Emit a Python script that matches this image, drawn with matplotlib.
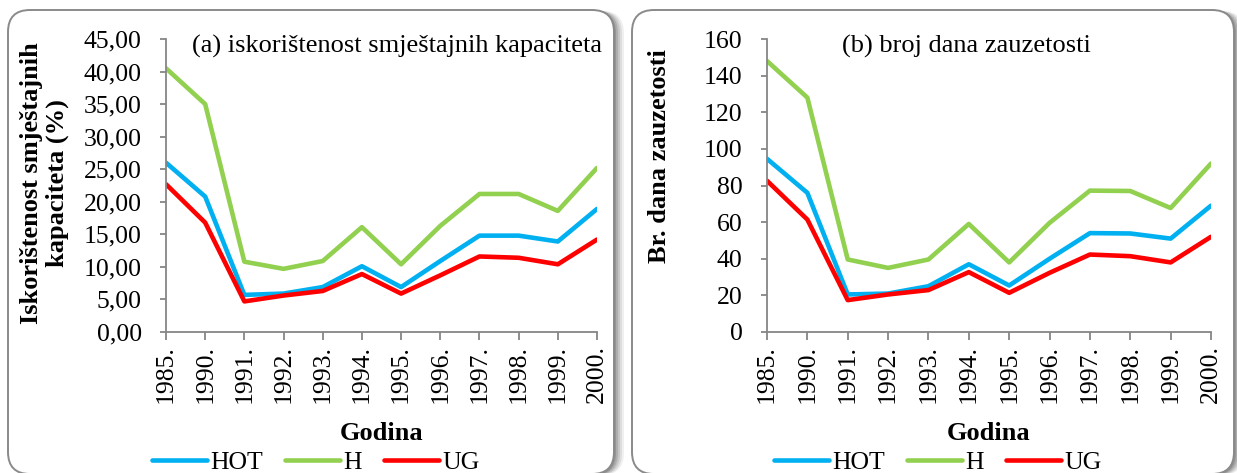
import matplotlib
matplotlib.use("Agg")
import matplotlib.pyplot as plt
from matplotlib.patches import FancyBboxPatch
from matplotlib.ticker import FuncFormatter

plt.rcParams['font.family'] = ['Liberation Serif', 'DejaVu Serif']

# data
years = ['1985.', '1990.', '1991.', '1992.', '1993.', '1994.',
         '1995.', '1996.', '1997.', '1998.', '1999.', '2000.']

# (a) iskoristenost smjestajnih kapaciteta (%)
occ_hot = [26.0, 20.8, 5.7, 5.9, 6.9, 10.1, 6.9, 10.9, 14.8, 14.8, 13.9, 18.9]
occ_h = [40.5, 35.0, 10.8, 9.7, 10.9, 16.1, 10.4, 16.3, 21.2, 21.2, 18.6, 25.2]
occ_ug = [22.7, 16.8, 4.7, 5.6, 6.3, 8.9, 5.9, 8.7, 11.6, 11.4, 10.4, 14.2]

# (b) broj dana zauzetosti
days_hot = [94.6, 76.0, 20.5, 21.0, 25.0, 37.0, 25.4, 40.0, 54.0, 53.8, 51.0, 69.0]
days_h = [148.0, 128.0, 39.6, 35.0, 39.6, 59.0, 38.0, 59.6, 77.2, 77.0, 67.7, 92.0]
days_ug = [82.6, 61.4, 17.4, 20.5, 22.9, 32.7, 21.4, 32.3, 42.3, 41.4, 38.0, 52.0]

series_names = ['HOT', 'H', 'UG']
colors = ['#00B0F0', '#92D050', '#FF0000']

W, H = 1237, 473
fig = plt.figure(figsize=(W / 100, H / 100), dpi=100)

# background layer in pixel coordinates for the rounded panels
bg = fig.add_axes([0, 0, 1, 1], zorder=-10)
bg.set_xlim(0, W)
bg.set_ylim(H, 0)
bg.set_axis_off()


def panel(x0, y0, x1, y1):
    # soft shadow on the right
    for i, a in enumerate([0.06, 0.08, 0.10, 0.12, 0.14]):
        off = 10 - 2 * i
        bg.add_patch(FancyBboxPatch((x0 + off, y0 + 1), x1 - x0, y1 - y0,
                                    boxstyle="round,pad=0,rounding_size=22",
                                    fc='black', ec='none', alpha=a))
    bg.add_patch(FancyBboxPatch((x0, y0), x1 - x0, y1 - y0,
                                boxstyle="round,pad=0,rounding_size=22",
                                fc='white', ec='#8a8a8a', lw=1.4))


panel(8, 10, 614, 474)
panel(632, 10, 1234, 474)

TICK_FS = 18.5
TEXT_FS = 19


def setup(ax, series, ylim, step, fmt):
    x = range(len(years))
    for vals, name, c in zip(series, series_names, colors):
        ax.plot(x, vals, color=c, lw=3.3, label=name,
                solid_joinstyle='round', solid_capstyle='round')
    ax.set_xlim(0, len(years) - 1)
    ax.set_ylim(*ylim)
    ax.set_yticks(range(ylim[0], ylim[1] + 1, step))
    ax.yaxis.set_major_formatter(FuncFormatter(fmt))
    ax.set_xticks(list(x))
    ax.set_xticklabels(years, rotation=90)
    for s in ['top', 'right']:
        ax.spines[s].set_visible(False)
    for s in ['left', 'bottom']:
        ax.spines[s].set_color('#868686')
        ax.spines[s].set_linewidth(1.3)
    ax.tick_params(axis='both', colors='#868686', labelcolor='black',
                   labelsize=TICK_FS, width=1.3)
    ax.tick_params(axis='y', length=4.5, pad=13)
    ax.tick_params(axis='x', length=5.5, pad=4)
    ax.patch.set_alpha(0)
    ax.text(0.5, -0.345, 'Godina', transform=ax.transAxes, fontsize=TEXT_FS,
            fontweight='bold', ha='center', va='center')


# left panel
ax1 = fig.add_axes([166 / W, 1 - 332 / H, 431 / W, 293 / H])
setup(ax1, [occ_hot, occ_h, occ_ug], (0, 45), 5,
      lambda v, p: f"{v:.2f}".replace('.', ','))
ax1.text(-0.281, 0.507, 'Iskorištenost smještajnih\nkapaciteta (%)',
         transform=ax1.transAxes, rotation=90, ha='center', va='center',
         fontsize=TEXT_FS, fontweight='bold', linespacing=1.15)
ax1.text(0.06, 0.973, '(a) iskorištenost smještajnih kapaciteta',
         transform=ax1.transAxes, fontsize=TEXT_FS, ha='left', va='center')
ax1.legend(loc='center left', bbox_to_anchor=(-0.032, -0.447), ncol=3,
           frameon=False, fontsize=TICK_FS, handlelength=2.15,
           handletextpad=0.12, columnspacing=0.85, borderpad=0,
           borderaxespad=0)

# right panel
ax2 = fig.add_axes([767 / W, 1 - 332 / H, 444 / W, 293 / H])
setup(ax2, [days_hot, days_h, days_ug], (0, 160), 20,
      lambda v, p: f"{v:.0f}")
ax2.text(-0.241, 0.602, 'Br. dana zauzetosti', transform=ax2.transAxes,
         rotation=90, ha='center', va='center', fontsize=TEXT_FS,
         fontweight='bold')
ax2.text(0.45, 0.973, '(b) broj dana zauzetosti',
         transform=ax2.transAxes, fontsize=TEXT_FS, ha='center', va='center')
ax2.legend(loc='center left', bbox_to_anchor=(0.016, -0.447), ncol=3,
           frameon=False, fontsize=TICK_FS, handlelength=2.15,
           handletextpad=0.12, columnspacing=0.85, borderpad=0,
           borderaxespad=0)

fig.savefig('out.png', dpi=100)
